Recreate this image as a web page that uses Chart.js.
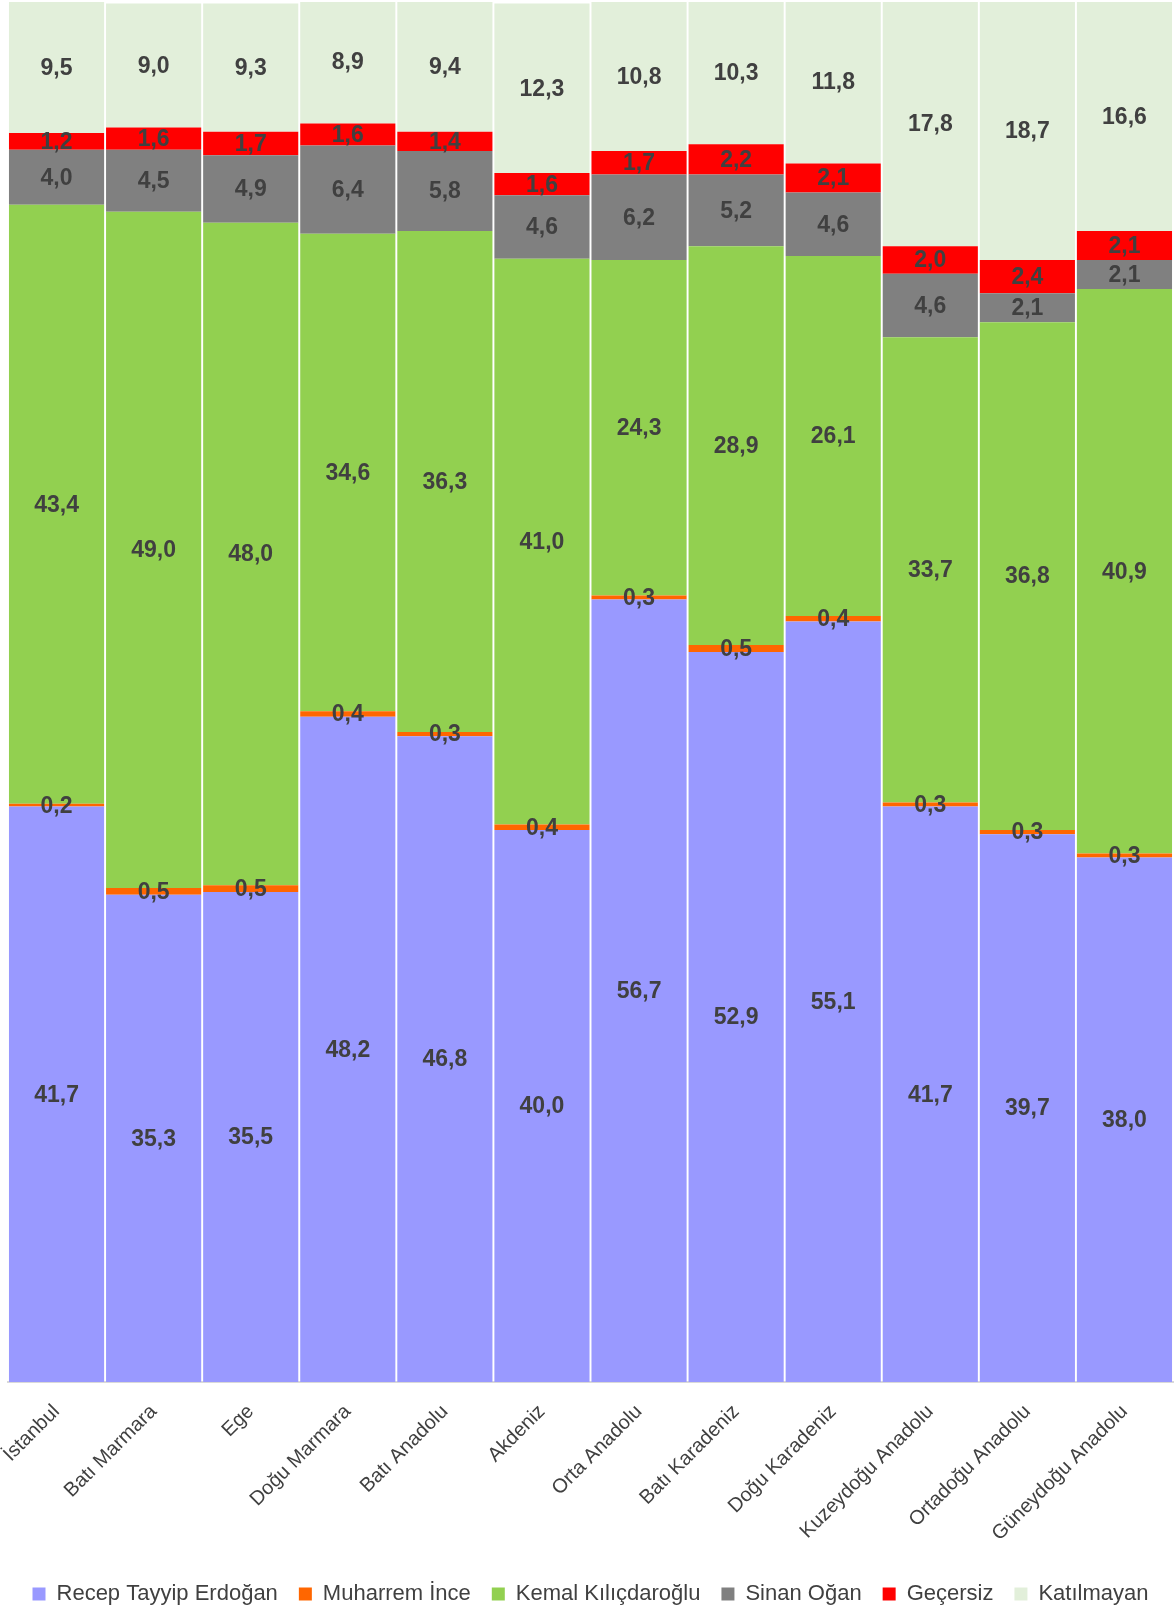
<!DOCTYPE html>
<html>
<head>
<meta charset="utf-8">
<script src="https://cdn.jsdelivr.net/npm/chart.js@4/dist/chart.umd.min.js"></script>
<style>
  html, body { margin: 0; padding: 0; background: #ffffff; }
  #wrap { width: 1175px; height: 1615px; }
</style>
</head>
<body>
<div id="wrap"><canvas id="c" width="1175" height="1615"></canvas></div>
<script>
const categories = ["İstanbul", "Batı Marmara", "Ege", "Doğu Marmara", "Batı Anadolu", "Akdeniz", "Orta Anadolu", "Batı Karadeniz", "Doğu Karadeniz", "Kuzeydoğu Anadolu", "Ortadoğu Anadolu", "Güneydoğu Anadolu"];
const seriesNames = ["Recep Tayyip Erdoğan", "Muharrem İnce", "Kemal Kılıçdaroğlu", "Sinan Oğan", "Geçersiz", "Katılmayan"];
const erdogan     = [41.7, 35.3, 35.5, 48.2, 46.8, 40.0, 56.7, 52.9, 55.1, 41.7, 39.7, 38.0];
const ince        = [0.2, 0.5, 0.5, 0.4, 0.3, 0.4, 0.3, 0.5, 0.4, 0.3, 0.3, 0.3];
const kilicdaroglu= [43.4, 49.0, 48.0, 34.6, 36.3, 41.0, 24.3, 28.9, 26.1, 33.7, 36.8, 40.9];
const ogan        = [4.0, 4.5, 4.9, 6.4, 5.8, 4.6, 6.2, 5.2, 4.6, 4.6, 2.1, 2.1];
const gecersiz    = [1.2, 1.6, 1.7, 1.6, 1.4, 1.6, 1.7, 2.2, 2.1, 2.0, 2.4, 2.1];
const katilmayan  = [9.5, 9.0, 9.3, 8.9, 9.4, 12.3, 10.8, 10.3, 11.8, 17.8, 18.7, 16.6];

const seriesValues = [erdogan, ince, kilicdaroglu, ogan, gecersiz, katilmayan];
const colors = ["#9999FF", "#FF6600", "#92D050", "#808080", "#FF0000", "#E2EFDA"];

const valueLabels = {
  id: 'valueLabels',
  afterDatasetsDraw(chart) {
    const ctx = chart.ctx;
    ctx.save();
    ctx.font = 'bold 23px "Liberation Sans", Arial, sans-serif';
    ctx.fillStyle = '#404040';
    ctx.textAlign = 'center';
    ctx.textBaseline = 'middle';
    chart.data.datasets.forEach((ds, i) => {
      const meta = chart.getDatasetMeta(i);
      meta.data.forEach((el, j) => {
        const v = ds.data[j];
        const y = (el.y + el.base) / 2;
        ctx.fillText(v.toFixed(1).replace('.', ','), el.x, y + 1);
      });
    });
    ctx.restore();
  }
};

const sans = "'Liberation Sans', Arial, sans-serif";

new Chart(document.getElementById('c'), {
  type: 'bar',
  data: {
    labels: categories,
    datasets: seriesNames.map((name, i) => ({
      label: name,
      data: seriesValues[i],
      backgroundColor: colors[i],
      borderWidth: 0,
      barPercentage: 0.98,
      categoryPercentage: 1.0
    }))
  },
  options: {
    responsive: false,
    animation: false,
    devicePixelRatio: 1,
    layout: { padding: { left: 8, right: 2, top: 2, bottom: 0 } },
    scales: {
      x: {
        stacked: true,
        grid: { display: false },
        border: { color: '#D9D9D9', width: 2 },
        ticks: {
          autoSkip: false,
          minRotation: 45,
          maxRotation: 45,
          padding: 10,
          color: '#404040',
          font: { family: sans, size: 20 }
        },
        afterFit(scale) {
          scale.height = 180;
          scale.paddingLeft = 0;
          scale.paddingRight = 0;
        }
      },
      y: {
        stacked: true,
        display: false,
        min: 0,
        max: 100
      }
    },
    plugins: {
      legend: {
        position: 'bottom',
        maxHeight: 53,
        labels: {
          boxWidth: 13,
          boxHeight: 13,
          padding: 21,
          color: '#404040',
          font: { family: sans, size: 22 }
        }
      },
      tooltip: { enabled: false }
    }
  },
  plugins: [valueLabels]
});
</script>
</body>
</html>
